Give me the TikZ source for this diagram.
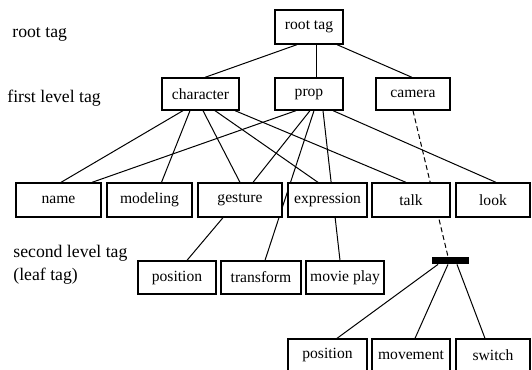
\documentclass[tikz,border=0pt]{standalone}
\usepackage{fontspec}
\setmainfont{Liberation Serif}
\usetikzlibrary{backgrounds}
\begin{document}
\begin{tikzpicture}[x=0.5pt,y=-0.5pt,
 tagbox/.style={draw,fill=white,line width=0.65pt,inner sep=0pt,minimum height=16.5pt,font=\rmfamily\fontsize{7.8}{9}\selectfont},
 levelname/.style={anchor=base west,inner sep=0pt,font=\rmfamily\fontsize{8.85}{10}\selectfont},
 link/.style={line width=0.5pt},
 camlink/.style={line width=0.5pt,dash pattern=on 2.5pt off 1.5pt}]
 \useasboundingbox (0,0) rectangle (532,370);
 \node[levelname] (lroot) at (12,37) {root tag};
 \node[levelname] (lfirst) at (7,102) {first level tag};
 \node[levelname] (lsecond) at (13,257) {second level tag};
 \node[levelname] (lleaf) at (13,280) {(leaf tag)};
 \node[tagbox,minimum width=34pt,minimum height=17pt] (root) at (309,27) {root tag};
 \node[tagbox,minimum width=38.5pt,minimum height=16pt] (character) at (200.5,94) {character};
 \node[tagbox,minimum width=34pt,minimum height=16pt] (prop) at (309,94) {prop};
 \node[tagbox,minimum width=37pt,minimum height=16pt] (camera) at (413,94) {camera};
 \node[tagbox,minimum width=42.5pt,minimum height=17pt] (name) at (58.5,200) {name};
 \node[tagbox,minimum width=42.5pt,minimum height=17pt] (modeling) at (149.5,200) {modeling};
 \node[tagbox,minimum width=42pt,minimum height=17pt] (gesture) at (240,200) {gesture};
 \node[tagbox,minimum width=39.5pt,minimum height=17pt] (expression) at (327.5,200) {expression};
 \node[tagbox,minimum width=39pt,minimum height=17pt] (talk) at (411,200) {talk};
 \node[tagbox,minimum width=37pt,minimum height=17pt] (look) at (493,200) {look};
 \node[tagbox,minimum width=39pt] (position) at (177,277.5) {position};
 \node[tagbox,minimum width=40pt] (transform) at (261,277.5) {transform};
 \node[tagbox,minimum width=39pt] (movieplay) at (345,277.5) {movie play};
 \node[fill=black,inner sep=0pt,minimum width=18.5pt,minimum height=3.5pt] (bar) at (450.5,260.5) {};
 \node[tagbox,minimum width=39.5pt,minimum height=16pt] (camposition) at (327.5,355) {position};
 \node[tagbox,minimum width=39pt,minimum height=16pt] (movement) at (411,355) {movement};
 \node[tagbox,minimum width=37pt,minimum height=16pt] (switch) at (493,355) {switch};
 \begin{scope}[on background layer]
 \draw[link] ([shift={(-12,0)}]root.south) -- ([shift={(4.5,0)}]character.north);
 \draw[link] ([shift={(8,0)}]root.south) -- ([shift={(8,0)}]prop.north);
 \draw[link] ([shift={(28,0)}]root.south) -- ([shift={(-1,0)}]camera.north);
 \draw[link] ([shift={(-17.5,0)}]character.south) -- ([shift={(2.5,0)}]name.north);
 \draw[link] ([shift={(-10.5,0)}]character.south) -- ([shift={(12,0)}]modeling.north);
 \draw[link] ([shift={(2.5,0)}]character.south) -- (gesture.north);
 \draw[link] ([shift={(14.5,0)}]character.south) -- ([shift={(-9.5,0)}]expression.north);
 \draw[link] ([shift={(34.5,0)}]character.south) -- ([shift={(-5,0)}]talk.north);
 \draw[link] ([shift={(-13,0)}]prop.south) -- ([shift={(33.5,0)}]name.north);
 \draw[link] ([shift={(1,0)}]prop.south) -- ([shift={(13,0)}]gesture.north);
 \draw[link] ([shift={(5,0)}]prop.south) -- ([shift={(4,0)}]transform.north);
 \draw[link] ([shift={(14,0)}]prop.south) -- ([shift={(-5,0)}]movieplay.north);
 \draw[link] ([shift={(24,0)}]prop.south) -- ([shift={(3,0)}]look.north);
 \draw[link] ([shift={(-17,0)}]gesture.south) -- ([shift={(10,0)}]position.north);
 \draw[camlink] (camera.south) -- ([shift={(-2.5,0)}]bar.north);
 \draw[link] ([shift={(-12.5,0)}]bar.south) -- ([shift={(9.5,0)}]camposition.north);
 \draw[link] ([shift={(-2.5,0)}]bar.south) -- ([shift={(4,0)}]movement.north);
 \draw[link] ([shift={(6.5,0)}]bar.south) -- ([shift={(-8,0)}]switch.north);
 \end{scope}
\end{tikzpicture}
\end{document}
